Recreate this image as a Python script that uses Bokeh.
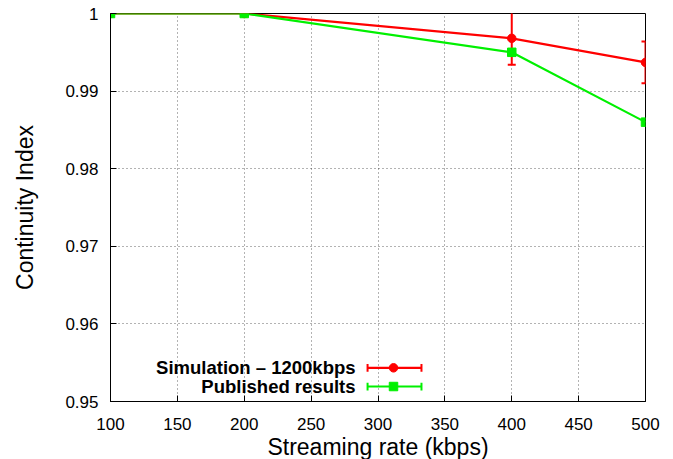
from bokeh.plotting import figure
from bokeh.models import ColumnDataSource, Whisker, TeeHead, FixedTicker, Range1d
from bokeh.core.properties import value
from bokeh.embed import file_html
from bokeh.resources import INLINE

# data
rates = [100, 200, 400, 500]
sim_ci = [1.0, 1.0, 0.9968, 0.9937]
sim_err = [0.0, 0.0, 0.0034, 0.0027]
pub_ci = [1.0, 1.0, 0.9950, 0.9860]
pub_err = [0.0, 0.0, 0.0, 0.0]
x_ticks = [100, 150, 200, 250, 300, 350, 400, 450, 500]
y_ticks = [0.95, 0.96, 0.97, 0.98, 0.99, 1.0]
y_tick_labels = {0.95: "0.95", 0.96: "0.96", 0.97: "0.97", 0.98: "0.98", 0.99: "0.99", 1.0: "1"}
series_names = ["Simulation \u2013 1200kbps", "Published results"]
series_colors = ["#ff0000", "#00f000"]

FONT = "Liberation Sans"

p = figure(width=665, height=459, output_backend="svg", toolbar_location=None,
           x_range=Range1d(100, 500), y_range=Range1d(0.95, 1.0),
           frame_width=535, frame_height=388,
           min_border_left=110, min_border_right=20, min_border_top=13, min_border_bottom=58)

p.outline_line_color = "black"
p.outline_line_width = 1
p.background_fill_color = "white"

for ax in (p.xaxis[0], p.yaxis[0]):
    ax.axis_line_color = "black"
    ax.major_tick_in = 6
    ax.major_tick_out = 0
    ax.minor_tick_line_color = None
    ax.major_tick_line_color = "black"
    ax.major_label_text_font = FONT
    ax.major_label_text_font_size = "17px"
    ax.major_label_text_color = "black"
    ax.axis_label_text_font = FONT
    ax.axis_label_text_font_size = "23px"
    ax.axis_label_text_font_style = "normal"
    ax.axis_label_text_color = "black"

p.xaxis.ticker = FixedTicker(ticks=x_ticks)
p.yaxis.ticker = FixedTicker(ticks=y_ticks)
p.yaxis.major_label_overrides = y_tick_labels
p.xaxis.axis_label = "Streaming rate (kbps)"
p.yaxis.axis_label = "Continuity Index"
p.xaxis.major_label_standoff = 16
p.yaxis.major_label_standoff = 12
p.xaxis.axis_label_standoff = 1
p.yaxis.axis_label_standoff = 24

p.grid.grid_line_color = "black"
p.grid.grid_line_alpha = 0.6
p.grid.grid_line_dash = "1 3"
p.grid.grid_line_width = 1

# simulation series with error bars
sim_src = ColumnDataSource(dict(x=rates, y=sim_ci,
                                lo=[v - e for v, e in zip(sim_ci, sim_err)],
                                hi=[v + e for v, e in zip(sim_ci, sim_err)]))
p.line("x", "y", source=sim_src, line_color=series_colors[0], line_width=2.2)
w1 = Whisker(source=sim_src, base="x", lower="lo", upper="hi",
             line_color=series_colors[0], line_width=2,
             lower_head=TeeHead(size=8, line_color=series_colors[0], line_width=2),
             upper_head=TeeHead(size=8, line_color=series_colors[0], line_width=2))
p.add_layout(w1)
p.scatter("x", "y", source=sim_src, marker="circle", size=8.5,
          fill_color=series_colors[0], line_color=series_colors[0])

pub_src = ColumnDataSource(dict(x=rates, y=pub_ci,
                                lo=[v - e for v, e in zip(pub_ci, pub_err)],
                                hi=[v + e for v, e in zip(pub_ci, pub_err)]))
p.line("x", "y", source=pub_src, line_color=series_colors[1], line_width=2.2)
p.scatter("x", "y", source=pub_src, marker="square", size=8.5,
          fill_color=series_colors[1], line_color=series_colors[1])

# legend (gnuplot style: label then sample)
leg_text_x = [283.2, 283.2]
leg_y = [0.95434, 0.95193]
leg_x0 = [292.2, 292.2]
leg_x1 = [332.5, 332.5]
leg_xm = [311.6, 311.6]
leg_markers = ["circle", "square"]

p.text(x=leg_text_x, y=leg_y, text=series_names, text_align="right",
       text_baseline="middle", text_font=value(FONT), text_font_style="bold",
       text_font_size="18.5px", text_color="black")
p.segment(x0=leg_x0, y0=leg_y, x1=leg_x1, y1=leg_y, line_color=series_colors, line_width=2.2)
cap = 0.0005
p.segment(x0=leg_x0, y0=[v - cap for v in leg_y], x1=leg_x0, y1=[v + cap for v in leg_y],
          line_color=series_colors, line_width=2)
p.segment(x0=leg_x1, y0=[v - cap for v in leg_y], x1=leg_x1, y1=[v + cap for v in leg_y],
          line_color=series_colors, line_width=2)
p.scatter(x=leg_xm, y=leg_y, marker=leg_markers, size=8.5,
          fill_color=series_colors, line_color=series_colors)

open("out.html", "w").write(file_html(p, INLINE))
